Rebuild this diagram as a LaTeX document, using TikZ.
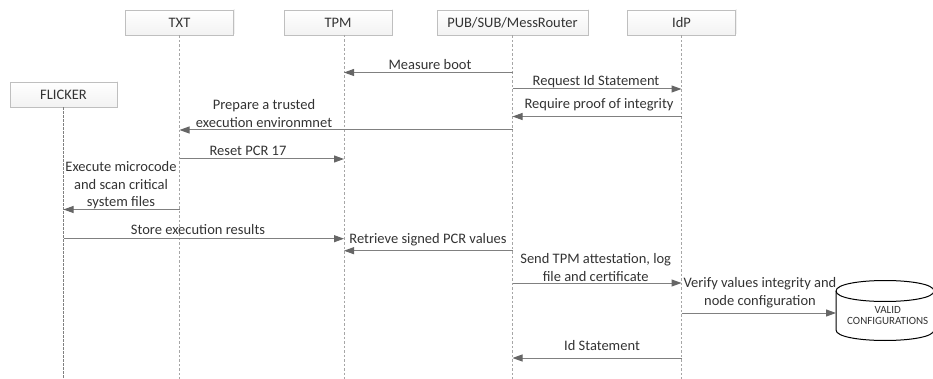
\documentclass[tikz,border=0pt]{standalone}
\usepackage{fontspec}
\setmainfont{Carlito}
\usetikzlibrary{arrows.meta,shadows}
\definecolor{txtc}{HTML}{333333}
\definecolor{boxb}{HTML}{BFBFBF}
\definecolor{linec}{HTML}{808080}
\definecolor{headc}{HTML}{666666}
\tikzset{
  actor/.style={draw=boxb,line width=0.8pt,top color=white,bottom color=black!5,minimum height=25pt,text=txtc,font=\fontsize{14.5}{16}\selectfont,anchor=center,inner sep=0pt,
    general shadow={shadow xshift=1pt,shadow yshift=1pt,fill=black!6}},
  life/.style={draw=black!35,line width=0.6pt,dash pattern=on 2.5pt off 2pt},
  lifeb/.style={draw=black!50,line width=1.1pt,dash pattern=on 2.5pt off 1.5pt},
  msg/.style={draw=linec,line width=1pt,-{Triangle[length=10pt,width=7pt,fill=headc,color=headc]}},
  lab/.style={text=txtc,font=\fontsize{14.5}{17.7}\selectfont,align=center,inner sep=0pt},
  smalllab/.style={text=txtc,font=\fontsize{11}{10.7}\selectfont,align=center,inner sep=0pt},
}
\begin{document}
\begin{tikzpicture}[x=1pt,y=-1pt]
\useasboundingbox (0,0) rectangle (933,379);
\clip (0,0) rectangle (933,379);
% actors
\node[actor,minimum width=108pt] (txt) at (179.5,22.5) {TXT};
\node[actor,minimum width=108pt] (tpm) at (338,22.5) {TPM};
\node[actor,minimum width=151pt] (pub) at (512.5,22.5) {PUB/SUB/MessRouter};
\node[actor,minimum width=108pt] (idp) at (681.5,22.5) {IdP};
\node[actor,minimum width=107pt] (fli) at (63.5,94.5) {FLICKER};
% lifeline ends
\coordinate (end) at (0,379);
\coordinate (tpml) at (344,35);
\draw[life] (txt.south) -- (txt |- end);
\draw[life] (tpml) -- (tpml |- end);
\draw[life] (pub.south) -- (pub |- end);
\draw[life] (idp.south) -- (idp |- end);
\draw[lifeb] (fli.south) -- (fli |- end);
% database
\coordinate (db) at (836,313);
\path[draw=black,line width=1pt,fill=white]
  (836,291) .. controls (836,277) and (934,277) .. (934,291)
  -- (934,330) .. controls (934,344) and (836,344) .. (836,330) -- cycle;
\draw[black,line width=1pt] (836,291) .. controls (836,305) and (934,305) .. (934,291);
\node[smalllab] (dbtxt) at (887.7,315.5) {VALID\\CONFIGURATIONS};
% message rows
\coordinate (r1) at (0,72.5);
\coordinate (r2) at (0,89);
\coordinate (r3) at (0,116.5);
\coordinate (r4) at (0,130);
\coordinate (r5) at (0,159);
\coordinate (r6) at (0,209.5);
\coordinate (r7) at (0,238.7);
\coordinate (r8) at (0,250.7);
\coordinate (r9) at (0,283);
\coordinate (r10) at (0,313);
\coordinate (r11) at (0,358);
\draw[msg] (pub |- r1) -- (tpml |- r1);
\draw[msg] (pub |- r2) -- (idp |- r2);
\draw[msg] (idp |- r3) -- (pub |- r3);
\draw[msg] (pub |- r4) -- (txt |- r4);
\draw[msg] (txt |- r5) -- (tpml |- r5);
\draw[msg] (txt |- r6) -- (fli |- r6);
\draw[msg] (fli |- r7) -- (tpml |- r7);
\draw[msg] (pub |- r8) -- (tpml |- r8);
\draw[msg] (pub |- r9) -- (idp |- r9);
\draw[msg] (idp |- r10) -- (db);
\draw[msg] (idp |- r11) -- (pub |- r11);
% labels
\node[lab] (l1) at (430,64.5) {Measure boot};
\node[lab] (l2) at (596,81.5) {Request Id Statement};
\node[lab] (l3) at (599,105) {Require proof of integrity};
\node[lab] (l4) at (264,113.4) {Prepare a trusted\\execution environmnet};
\node[lab] (l5) at (248,151) {Reset PCR 17};
\node[lab] (l6) at (121,185.4) {Execute microcode\\and scan critical\\system files};
\node[lab] (l7) at (198,229.3) {Store execution results};
\node[lab] (l8) at (428,239.3) {Retrieve signed PCR values};
\node[lab] (l9) at (595.7,267.8) {Send TPM attestation, log\\file and certificate};
\node[lab] (l10) at (760,292.8) {Verify values integrity and\\node configuration};
\node[lab] (l11) at (602,345.7) {Id Statement};
\end{tikzpicture}
\end{document}
